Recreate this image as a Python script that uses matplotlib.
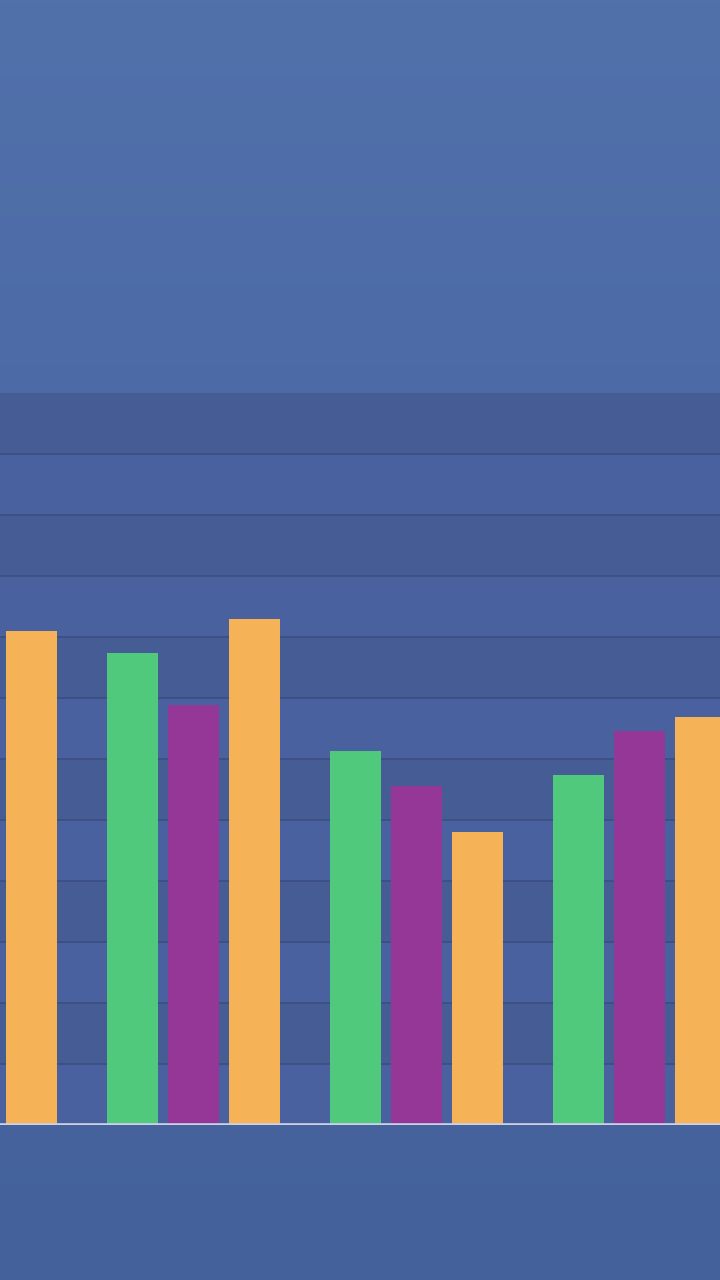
import numpy as np
import matplotlib
matplotlib.use('Agg')
import matplotlib.pyplot as plt
from matplotlib.colors import LinearSegmentedColormap

# data (one band = 1 unit); None = bar out of frame
groups = [0, 1, 2, 3]
green = [None, 7.73, 6.13, 5.73]
purple = [None, 6.89, 5.56, 6.46]
orange = [8.10, 8.29, 4.80, 6.69]
series = [(green, '#50c97d', -1), (purple, '#953796', 0), (orange, '#f6b257', 1)]

fig = plt.figure(figsize=(7.2, 12.8), dpi=100)

# background gradient over the whole figure
bg = fig.add_axes([0, 0, 1, 1], zorder=0)
grad = np.linspace(0, 1, 256).reshape(-1, 1)
cmap = LinearSegmentedColormap.from_list('bg', ['#5171ab', '#4a68a4', '#44619b'])
bg.imshow(grad, aspect='auto', cmap=cmap, extent=[0, 1, 0, 1])
bg.axis('off')

ax = fig.add_axes([0, 155 / 1280, 1, 732 / 1280], zorder=1)
ax.patch.set_alpha(0)

# alternating bands
for i in range(12):
    c = '#4a61a0' if i % 2 == 0 else '#465c95'
    ax.axhspan(i, i + 1, color=c, zorder=0, lw=0)
for i in range(1, 12):
    ax.axhline(i, color='#3d4f84', lw=1.3, zorder=1)

step = 61 / 223
width = 51 / 223
for vals, col, off in series:
    xs = [g + off * step for g, v in zip(groups, vals) if v is not None]
    hs = [v for v in vals if v is not None]
    ax.bar(xs, hs, width=width, color=col, zorder=3, lw=0)

ax.axhline(0, color='#cdd1e6', lw=2.6, zorder=4)

ax.set_xlim((0 - 193.5) / 223 + 1, (720 - 193.5) / 223 + 1)
ax.set_ylim(0, 12)
ax.axis('off')

fig.savefig('out.png', dpi=100)
